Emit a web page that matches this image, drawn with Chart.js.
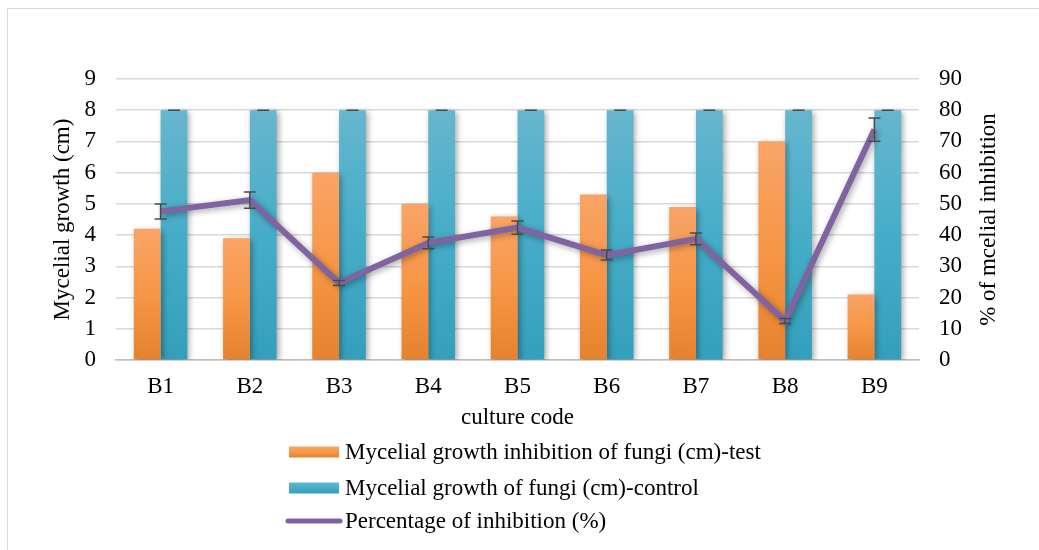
<!DOCTYPE html>
<html>
<head>
<meta charset="utf-8">
<script src="https://cdn.jsdelivr.net/npm/chart.js@4.4.1/dist/chart.umd.min.js"></script>
<style>
  html, body { margin: 0; padding: 0; background: #fff; }
  #wrap { width: 1039px; height: 550px; position: relative; }
</style>
</head>
<body>
<div id="wrap"><canvas id="chart"></canvas></div>
<script>
// data
const cultureCodes = ["B1", "B2", "B3", "B4", "B5", "B6", "B7", "B8", "B9"];
const testGrowth = [4.2, 3.9, 6.0, 5.0, 4.6, 5.3, 4.9, 7.0, 2.1];
const controlGrowth = [8, 8, 8, 8, 8, 8, 8, 8, 8];
const controlError = [0, 0, 0, 0, 0, 0, 0, 0, 0];
const inhibitionPct = [47.6, 51.2, 24.7, 37.5, 42.4, 33.6, 38.8, 12.5, 73.8];
const inhibitionError = [2.4, 2.6, 0.8, 1.9, 2.1, 1.6, 1.9, 0.8, 3.7];
const leftTicks = { max: 9, step: 1 };
const rightTicks = { max: 90, step: 10 };

const FONT = "'Liberation Serif', 'Times New Roman', serif";
const FS = 23;
const orangeStops = ["#F9A467", "#F79646", "#E5822E"];
const blueStops = ["#66B6CE", "#46ADC8", "#349FBC"];
const purple = "#8064A2";

function barGradient(stops, axisId) {
  return (c) => {
    const chart = c.chart;
    if (c.type !== "data" || !chart.scales[axisId]) return stops[1];
    const scale = chart.scales[axisId];
    const top = scale.getPixelForValue(c.raw);
    const bottom = scale.getPixelForValue(0);
    if (!isFinite(top) || !isFinite(bottom) || top === bottom) return stops[1];
    const g = chart.ctx.createLinearGradient(0, top, 0, bottom);
    g.addColorStop(0, stops[0]);
    g.addColorStop(0.5, stops[1]);
    g.addColorStop(1, stops[2]);
    return g;
  };
}

// soft drop shadow like the office chart
const shadowPlugin = {
  id: "shadows",
  beforeDatasetDraw(chart) {
    const ctx = chart.ctx;
    ctx.save();
    ctx.shadowColor = "rgba(0,0,0,0.35)";
    ctx.shadowBlur = 6;
    ctx.shadowOffsetX = 2;
    ctx.shadowOffsetY = 2;
  },
  afterDatasetDraw(chart) {
    chart.ctx.restore();
  }
};

// error bars drawn through the scales
const errorBarPlugin = {
  id: "errorBars",
  afterDatasetsDraw(chart) {
    const ctx = chart.ctx;
    ctx.save();
    ctx.strokeStyle = "#4a4a4a";
    ctx.lineWidth = 1.5;
    chart.data.datasets.forEach((ds, di) => {
      if (!ds.errors) return;
      const meta = chart.getDatasetMeta(di);
      const scale = chart.scales[ds.yAxisID];
      meta.data.forEach((el, i) => {
        const v = ds.data[i], e = ds.errors[i];
        const x = el.x;
        const yTop = scale.getPixelForValue(v + e);
        const yBot = scale.getPixelForValue(v - e);
        const cap = 6;
        ctx.beginPath();
        ctx.moveTo(x, yTop); ctx.lineTo(x, yBot);
        ctx.moveTo(x - cap, yTop); ctx.lineTo(x + cap, yTop);
        ctx.moveTo(x - cap, yBot); ctx.lineTo(x + cap, yBot);
        ctx.stroke();
      });
    });
    ctx.restore();
  }
};

// frame, right axis title (reads bottom to top) and vertical legend
const framePlugin = {
  id: "frame",
  beforeDraw(chart) {
    const ctx = chart.ctx;
    ctx.save();
    ctx.strokeStyle = "#d9d9d9";
    ctx.lineWidth = 1;
    ctx.strokeRect(7.5, 8.5, chart.width + 20, chart.height + 20);
    ctx.restore();
  },
  afterDraw(chart) {
    const ctx = chart.ctx;
    const area = chart.chartArea;
    const y2 = chart.scales.y2;

    ctx.save();
    ctx.font = FS + "px " + FONT;
    ctx.fillStyle = "#000";
    ctx.textAlign = "center";
    ctx.textBaseline = "middle";
    ctx.translate(y2.right - 18, (area.top + area.bottom) / 2);
    ctx.rotate(-Math.PI / 2);
    ctx.fillText(y2.options.title.text, 0, 0);
    ctx.restore();

    const rows = [452, 488, 521];
    const boxX = 289, boxW = 50, textX = 345;
    ctx.save();
    ctx.font = FS + "px " + FONT;
    ctx.fillStyle = "#000";
    ctx.textBaseline = "middle";
    chart.data.datasets.forEach((ds, i) => {
      const y = rows[i];
      if (ds.type === "line") {
        ctx.strokeStyle = ds.borderColor;
        ctx.lineWidth = 5;
        ctx.lineCap = "round";
        ctx.beginPath();
        ctx.moveTo(boxX - 1, y); ctx.lineTo(boxX + boxW + 1, y);
        ctx.stroke();
      } else {
        const stops = ds.legendStops;
        const g = ctx.createLinearGradient(0, y - 5.5, 0, y + 5.5);
        g.addColorStop(0, stops[0]); g.addColorStop(0.5, stops[1]); g.addColorStop(1, stops[2]);
        ctx.fillStyle = g;
        ctx.fillRect(boxX, y - 5.5, boxW, 11);
        ctx.fillStyle = "#000";
      }
      ctx.fillText(ds.label, textX, y + 1);
    });
    ctx.restore();
  }
};

new Chart(document.getElementById("chart"), {
  data: {
    labels: cultureCodes,
    datasets: [
      {
        type: "bar",
        label: "Mycelial growth inhibition of fungi (cm)-test",
        data: testGrowth,
        yAxisID: "y",
        backgroundColor: barGradient(orangeStops, "y"),
        legendStops: orangeStops,
        barPercentage: 1,
        categoryPercentage: 0.6,
        order: 2
      },
      {
        type: "bar",
        label: "Mycelial growth of fungi (cm)-control",
        data: controlGrowth,
        errors: controlError,
        yAxisID: "y",
        backgroundColor: barGradient(blueStops, "y"),
        legendStops: blueStops,
        barPercentage: 1,
        categoryPercentage: 0.6,
        order: 2
      },
      {
        type: "line",
        label: "Percentage of inhibition (%)",
        data: inhibitionPct,
        errors: inhibitionError,
        yAxisID: "y2",
        borderColor: purple,
        backgroundColor: purple,
        borderWidth: 6,
        pointRadius: 0,
        tension: 0,
        borderJoinStyle: "miter",
        order: 0
      }
    ]
  },
  options: {
    responsive: true,
    maintainAspectRatio: false,
    animation: false,
    layout: { padding: { left: 46, right: 32, top: 79, bottom: 115 } },
    plugins: {
      legend: { display: false },
      tooltip: { enabled: false }
    },
    scales: {
      x: {
        grid: { display: false, drawTicks: false },
        border: { display: true, color: "#bfbfbf", width: 1.5 },
        ticks: { color: "#000", font: { family: FONT, size: FS }, padding: 13, maxRotation: 0 },
        title: { display: true, text: "culture code", color: "#000", font: { family: FONT, size: FS }, padding: { top: 0, bottom: 3 } },
        afterFit: (s) => { s.height = 75; }
      },
      y: {
        position: "left",
        min: 0,
        max: leftTicks.max,
        ticks: { stepSize: leftTicks.step, color: "#000", font: { family: FONT, size: FS }, padding: 20 },
        grid: { color: "#d9d9d9", lineWidth: 1.5, drawTicks: false },
        border: { display: false },
        title: { display: true, text: "Mycelial growth (cm)", color: "#000", font: { family: FONT, size: FS }, padding: { top: 3, bottom: 4 } },
        afterFit: (s) => { s.width = 70; }
      },
      y2: {
        position: "right",
        min: 0,
        max: rightTicks.max,
        ticks: { stepSize: rightTicks.step, color: "#000", font: { family: FONT, size: FS }, padding: 20 },
        grid: { display: false, drawTicks: false },
        border: { display: false },
        title: { display: false, text: "% of mcelial inhibition" },
        afterFit: (s) => { s.width = 88; }
      }
    }
  },
  plugins: [shadowPlugin, errorBarPlugin, framePlugin]
});
</script>
</body>
</html>
